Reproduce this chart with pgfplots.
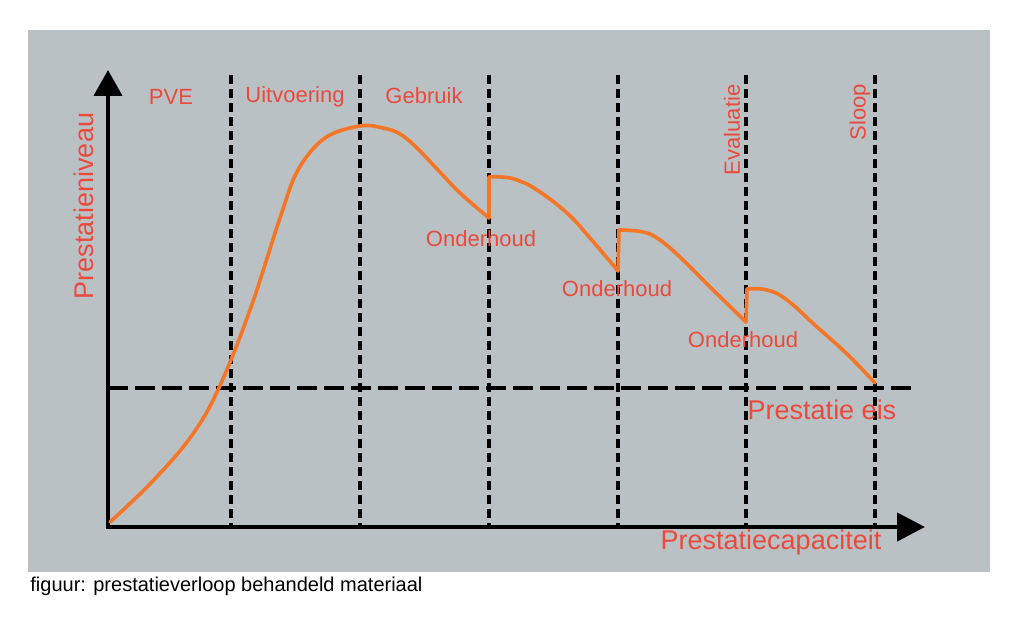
\documentclass[border=0pt]{standalone}
\usepackage{fontspec}
\setmainfont{Liberation Sans}
\usepackage{pgfplots}
\pgfplotsset{compat=1.18}
\usetikzlibrary{arrows.meta}

\definecolor{panel}{RGB}{186,193,197}
\definecolor{lbl}{RGB}{234,74,60}
\definecolor{curve}{RGB}{245,118,38}

\begin{document}
\begin{tikzpicture}
\begin{axis}[
    scale only axis,
    width=512pt, height=309.5pt,
    xmin=0, xmax=1024, ymin=0, ymax=619,
    y dir=reverse,
    axis lines=none,
    clip=false,
]
% page and grey panel
\addplot[draw=none, fill=white] coordinates {(0,0) (1024,0) (1024,619) (0,619)} -- cycle;
\addplot[draw=none, fill=panel] coordinates {(28,30) (990,30) (990,572) (28,572)} -- cycle;

% phase boundaries
\foreach \xx in {231,360,489,618,746,875} {
  \edef\tmp{\noexpand\addplot[black, line width=1.6pt, dash pattern=on 4.5pt off 2.5pt]
    coordinates {(\xx,75) (\xx,527)};}
  \tmp
}
% requirement level
\addplot[black, line width=2pt, dash pattern=on 10pt off 3.5pt]
  coordinates {(108,388) (915,388)};

% axes
\addplot[black, line width=2.2pt, -{Triangle[width=14pt,length=13pt]}]
  coordinates {(108,527) (108,70)};
\addplot[black, line width=2.2pt, -{Triangle[width=14pt,length=14pt]}]
  coordinates {(106,527) (925,527)};

% performance curve
\addplot[curve, line width=1.8pt, smooth, tension=0.6, line cap=round, line join=round]
  coordinates {(110,522) (150,484) (190,438) (218,390) (250,310)
               (280,218) (298,170) (325,138) (360,126) (383,128) (400,134)
               (417,148) (437,169) (460,193) (489,218)};
\addplot[curve, line width=1.8pt, smooth, tension=0.7, line cap=round, line join=round]
  coordinates {(489,177) (502,177) (517,180) (537,190) (567,213) (590,238) (618,271)};
\addplot[curve, line width=1.8pt, smooth, tension=0.7, line cap=round, line join=round]
  coordinates {(619,230) (643,232) (660,240) (683,260) (710,287) (746,322)};
\addplot[curve, line width=1.8pt, smooth, tension=0.7, line cap=round, line join=round]
  coordinates {(747,289) (767,290) (787,300) (817,327) (847,354) (875,383)};
% maintenance jumps
\addplot[curve, line width=1.8pt, line cap=round, unbounded coords=jump]
  coordinates {(489,218) (489,177) (nan,nan) (618,271) (619,230) (nan,nan) (746,322) (747,289)};

% labels
\begin{scope}[every node/.style={text=lbl, inner sep=0pt}]
\node[font=\fontsize{11}{13}\selectfont] at (171,97) {PVE};
\node[font=\fontsize{11}{13}\selectfont] at (295,97) {Uitvoering};
\node[font=\fontsize{11}{13}\selectfont] at (424,96) {Gebruik};
\node[font=\fontsize{11}{13}\selectfont, rotate=90] at (732,130) {Evaluatie};
\node[font=\fontsize{11}{13}\selectfont, rotate=90] at (860,112) {Sloop};
\node[font=\fontsize{11}{13}\selectfont] at (481,239) {Onderhoud};
\node[font=\fontsize{11}{13}\selectfont] at (617,289) {Onderhoud};
\node[font=\fontsize{11}{13}\selectfont] at (743,340) {Onderhoud};
\node[font=\fontsize{13.5}{16}\selectfont] at (822,410) {Prestatie eis};
\node[font=\fontsize{13.5}{16}\selectfont] at (771,543) {Prestatiecapaciteit};
\node[font=\fontsize{13.5}{16}\selectfont, rotate=90] at (84,206) {Prestatieniveau};
\end{scope}
\node[anchor=base west, inner sep=0pt, font=\fontsize{10}{12}\selectfont]
  at (30,592) {figuur: prestatieverloop behandeld materiaal};
\end{axis}
\end{tikzpicture}
\end{document}
